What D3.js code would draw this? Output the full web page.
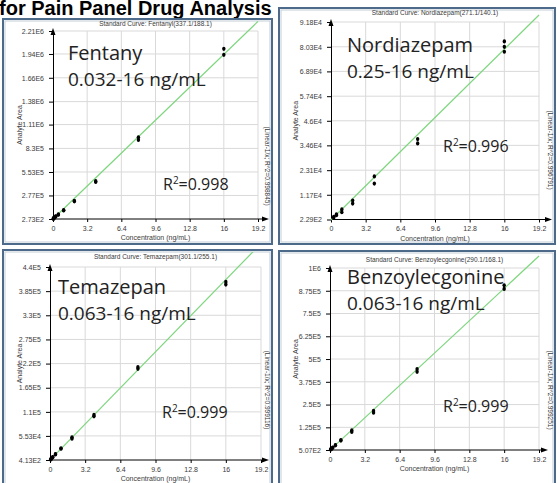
<!DOCTYPE html>
<html>
<head>
<meta charset="utf-8">
<script src="https://cdn.jsdelivr.net/npm/d3@7"></script>
<style>
  body { margin: 0; background: #fff; }
  svg { display: block; }
</style>
</head>
<body>
<div id="chart"></div>
<script>
// các giá trị
var xTicks = [0, 3.2, 6.4, 9.6, 12.8, 16, 19.2];

var fentanylConc = [0.032, 0.032, 0.063, 0.063, 0.125, 0.125, 0.25, 0.25, 0.5, 0.5, 1, 1, 2, 2, 4, 4, 8, 8, 16, 16];
var fentanylArea = [3.9e3, 4.2e3, 7.6e3, 8.0e3, 1.5e4, 1.6e4, 2.9e4, 3.1e4, 5.0e4, 5.4e4, 1.0e5, 1.04e5, 2.08e5, 2.14e5, 4.35e5, 4.45e5, 9.3e5, 9.6e5, 1.93e6, 2.0e6];
var fentanylTicks = ["2.73E2", "2.77E5", "5.53E5", "8.3E5", "1.11E6", "1.38E6", "1.66E6", "1.94E6", "2.21E6"];
var fentanylFit = [0, 1.21e5]; // intercept, slope

var nordiazepamConc = [0.25, 0.25, 0.5, 0.5, 1, 1, 2, 2, 4, 4, 8, 8, 16, 16, 16];
var nordiazepamArea = [1.0e3, 1.4e3, 2.2e3, 2.6e3, 3.6e3, 4.9e3, 7.6e3, 9.0e3, 1.69e4, 2.02e4, 3.55e4, 3.75e4, 7.8e4, 8.03e4, 8.28e4];
var nordiazepamTicks = ["2.29E2", "1.17E4", "2.31E4", "3.46E4", "4.6E4", "5.74E4", "6.89E4", "8.03E4", "9.18E4"];
var nordiazepamFit = [0, 4.95e3];

var temazepamConc = [0.063, 0.063, 0.125, 0.125, 0.25, 0.25, 0.5, 0.5, 1, 1, 2, 2, 4, 4, 8, 8, 16, 16];
var temazepamArea = [1.6e3, 1.8e3, 3.3e3, 3.6e3, 6.5e3, 7.0e3, 1.3e4, 1.4e4, 2.6e4, 2.7e4, 4.9e4, 5.2e4, 1.0e5, 1.03e5, 2.08e5, 2.12e5, 4.0e5, 4.06e5];
var temazepamTicks = ["4.13E2", "5.53E4", "1.1E5", "1.65E5", "2.2E5", "2.75E5", "3.3E5", "3.85E5", "4.4E5"];
var temazepamFit = [0, 2.57e4];

var benzoylConc = [0.063, 0.063, 0.125, 0.125, 0.25, 0.25, 0.5, 0.5, 1, 1, 2, 2, 4, 4, 8, 8, 16, 16];
var benzoylArea = [3.2e3, 3.6e3, 6.5e3, 7.0e3, 1.3e4, 1.4e4, 2.6e4, 2.8e4, 5.2e4, 5.5e4, 1.0e5, 1.08e5, 2.05e5, 2.15e5, 4.3e5, 4.45e5, 8.85e5, 9.05e5];
var benzoylTicks = ["5.07E2", "1.25E5", "2.5E5", "3.75E5", "5E5", "6.25E5", "7.5E5", "8.75E5", "1E6"];
var benzoylFit = [0, 5.55e4];

var width = 557, height = 483;

var svg = d3.select("#chart").append("svg")
  .attr("width", width)
  .attr("height", height);

// tiêu đề bị cắt phía trên
svg.append("text")
  .attr("x", -1)
  .attr("y", 15)
  .style("font-family", "'Liberation Sans', Arial, sans-serif")
  .style("font-weight", "bold")
  .style("font-size", "20px")
  .style("fill", "#000")
  .text("for Pain Panel Drug Analysis");

var panels = [
  { name: "Fentany", range: "0.032-16 ng/mL", r2: "0.998",
    title: "Standard Curve: Fentanyl(337.1/188.1)", eq: "(Linear-1/x; R^2=0.998845)",
    conc: fentanylConc, area: fentanylArea, ticks: fentanylTicks, fit: fentanylFit,
    frame: [3, 19, 269, 225], plot: [53, 258, 31, 219], arrow: 11, titleY: 26, eqY: 166,
    nameAt: [68, 60], r2At: [163, 190] },
  { name: "Nordiazepam", range: "0.25-16 ng/mL", r2: "0.996",
    title: "Standard Curve: Nordiazepam(271.1/140.1)", eq: "(Linear-1/x; R^2=0.996791)",
    conc: nordiazepamConc, area: nordiazepamArea, ticks: nordiazepamTicks, fit: nordiazepamFit,
    frame: [279, 8, 276, 236], plot: [331, 539, 22, 219.5], arrow: 13, titleY: 15, eqY: 150,
    nameAt: [347, 52], r2At: [443, 152] },
  { name: "Temazepan", range: "0.063-16 ng/mL", r2: "0.999",
    title: "Standard Curve: Temazepam(301.1/255.1)", eq: "(Linear-1/x; R^2=0.999116)",
    conc: temazepamConc, area: temazepamArea, ticks: temazepamTicks, fit: temazepamFit,
    frame: [3, 250, 269, 240], plot: [50, 261, 267, 460], arrow: 8, titleY: 259, eqY: 390,
    nameAt: [58, 294], r2At: [162, 418] },
  { name: "Benzoylecgonine", range: "0.063-16 ng/mL", r2: "0.999",
    title: "Standard Curve: Benzoylecgonine(290.1/168.1)", eq: "(Linear-1/x; R^2=0.999251)",
    conc: benzoylConc, area: benzoylArea, ticks: benzoylTicks, fit: benzoylFit,
    frame: [279, 251, 276, 240], plot: [330, 539, 268, 450], arrow: 9, titleY: 262, eqY: 390,
    nameAt: [347, 284], r2At: [443, 412] }
];

var smallFont = "'Liberation Sans', 'DejaVu Sans', sans-serif";
var bigFont = "'Open Sans', Lato, sans-serif";

panels.forEach(function(p, i) {
  var f = p.frame, l = p.plot[0], r = p.plot[1], t = p.plot[2], b = p.plot[3];
  var g = svg.append("g");

  // khung
  g.append("rect")
    .attr("x", f[0]).attr("y", f[1])
    .attr("width", f[2]).attr("height", f[3])
    .attr("fill", "#fff")
    .attr("stroke", "#4d6a8a")
    .attr("stroke-width", 2);
  g.append("rect")
    .attr("x", f[0] + 2).attr("y", f[1] + 2)
    .attr("width", f[2] - 4).attr("height", f[3] - 4)
    .attr("fill", "none")
    .attr("stroke", "#c3cdd8")
    .attr("stroke-width", 1);

  var x = d3.scaleLinear().domain([0, 19.2]).range([l, r]);
  var y = d3.scaleLinear()
    .domain([+p.ticks[0], +p.ticks[p.ticks.length - 1]])
    .range([b, t]);

  // lưới
  g.selectAll(".gx").data(xTicks.slice(1)).enter().append("line")
    .attr("x1", function(d) { return x(d); }).attr("x2", function(d) { return x(d); })
    .attr("y1", b).attr("y2", t)
    .attr("stroke", "#d9d9d9").attr("stroke-width", 1);
  g.selectAll(".gy").data(p.ticks.slice(1)).enter().append("line")
    .attr("x1", l).attr("x2", r)
    .attr("y1", function(d) { return y(+d); }).attr("y2", function(d) { return y(+d); })
    .attr("stroke", "#d9d9d9").attr("stroke-width", 1);

  // trục y
  var yAxis = g.append("g")
    .attr("transform", "translate(" + l + ",0)")
    .call(d3.axisLeft(y).tickValues(p.ticks.map(Number)).tickFormat(function(d, j) { return p.ticks[j]; })
      .tickSize(4).tickSizeOuter(0).tickPadding(5));
  yAxis.selectAll("text").style("font-family", smallFont).style("font-size", "7px").style("fill", "#3a3a3a");
  yAxis.select(".domain").attr("stroke", "#000");

  // trục x
  var xAxis = g.append("g")
    .attr("transform", "translate(0," + b + ")")
    .call(d3.axisBottom(x).tickValues(xTicks).tickFormat(function(d) { return d; })
      .tickSize(3).tickSizeOuter(0).tickPadding(4));
  xAxis.selectAll("text").style("font-family", smallFont).style("font-size", "7px").style("fill", "#3a3a3a");
  xAxis.select(".domain").remove();
  var tip = r + p.arrow;
  g.append("line")
    .attr("x1", l).attr("x2", tip - 4)
    .attr("y1", b).attr("y2", b)
    .attr("stroke", "#000");

  // mũi tên
  g.append("path")
    .attr("d", "M" + l + "," + (t - 3) + "L" + (l - 2.5) + "," + (t + 4) + "L" + (l + 2.5) + "," + (t + 4) + "Z")
    .attr("fill", "#000");
  g.append("path")
    .attr("d", "M" + tip + "," + b + "L" + (tip - 7) + "," + (b - 2.5) + "L" + (tip - 7) + "," + (b + 2.5) + "Z")
    .attr("fill", "#000");

  // đường hồi quy
  g.append("clipPath").attr("id", "clip" + i)
    .append("rect").attr("x", f[0]).attr("y", f[1] + 2).attr("width", f[2]).attr("height", f[3]);
  var fitLine = d3.line()
    .x(function(d) { return x(d); })
    .y(function(d) { return y(p.fit[0] + p.fit[1] * d); });
  g.append("path")
    .datum([0, 19.2])
    .attr("d", fitLine)
    .attr("clip-path", "url(#clip" + i + ")")
    .attr("fill", "none")
    .attr("stroke", "#7dd67d")
    .attr("stroke-width", 1.2);

  // điểm
  g.selectAll(".pt").data(p.conc).enter().append("ellipse")
    .attr("cx", function(d) { return x(d); })
    .attr("cy", function(d, j) { return y(p.area[j]); })
    .attr("rx", 1.7).attr("ry", 2.1)
    .attr("fill", "#000");

  // chữ nhỏ
  g.append("text")
    .attr("x", (l + r) / 2).attr("y", p.titleY)
    .attr("text-anchor", "middle")
    .style("font-family", smallFont).style("font-size", "6.5px").style("fill", "#3a3a3a")
    .text(p.title);
  g.append("text")
    .attr("x", (l + r) / 2).attr("y", b + 21)
    .attr("text-anchor", "middle")
    .style("font-family", smallFont).style("font-size", "7px").style("fill", "#3a3a3a")
    .text("Concentration (ng/mL)");
  g.append("text")
    .attr("transform", "translate(" + (f[0] + 19) + "," + ((t + b) / 2) + ") rotate(-90)")
    .attr("text-anchor", "middle")
    .style("font-family", smallFont).style("font-size", "7px").style("fill", "#3a3a3a")
    .text("Analyte Area");
  g.append("text")
    .attr("transform", "translate(" + (f[0] + f[2] - 7) + "," + p.eqY + ") rotate(90)")
    .attr("text-anchor", "middle")
    .style("font-family", smallFont).style("font-size", "6.5px").style("fill", "#3a3a3a")
    .text(p.eq);

  // chữ lớn
  g.append("text")
    .attr("x", p.nameAt[0]).attr("y", p.nameAt[1])
    .style("font-family", bigFont).style("font-size", "20px").style("fill", "#222")
    .text(p.name);
  g.append("text")
    .attr("x", p.nameAt[0]).attr("y", p.nameAt[1] + 26)
    .style("font-family", bigFont).style("font-size", "19px").style("fill", "#222")
    .text(p.range);
  var r2 = g.append("text")
    .attr("x", p.r2At[0]).attr("y", p.r2At[1])
    .style("font-family", bigFont).style("font-size", "16px").style("fill", "#222");
  r2.append("tspan").text("R");
  r2.append("tspan").attr("dy", -6).style("font-size", "10px").text("2");
  r2.append("tspan").attr("dy", 6).text("=" + p.r2);
});
</script>
</body>
</html>
